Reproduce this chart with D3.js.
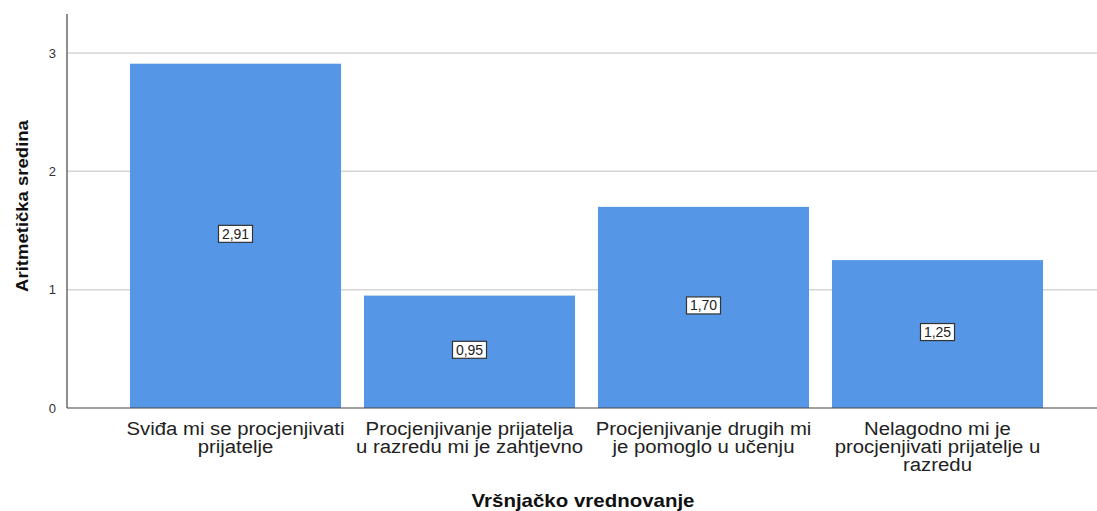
<!DOCTYPE html>
<html>
<head>
<meta charset="utf-8">
<script src="https://cdn.jsdelivr.net/npm/d3@7"></script>
<style>
  body { margin: 0; background: #fff; }
  svg { font-family: "Liberation Sans", Arial, sans-serif; }
</style>
</head>
<body>
<svg width="1097" height="511"></svg>
<script>
// Data
var categories = [
    "Sviđa mi se procjenjivati prijatelje",
    "Procjenjivanje prijatelja u razredu mi je zahtjevno",
    "Procjenjivanje drugih mi je pomoglo u učenju",
    "Nelagodno mi je procjenjivati prijatelje u razredu"
];
var categoryLines = [
    ["Sviđa mi se procjenjivati", "prijatelje"],
    ["Procjenjivanje prijatelja", "u razredu mi je zahtjevno"],
    ["Procjenjivanje drugih mi", "je pomoglo u učenju"],
    ["Nelagodno mi je", "procjenjivati prijatelje u", "razredu"]
];
var means = [2.91, 0.95, 1.70, 1.25];
var meanLabels = ["2,91", "0,95", "1,70", "1,25"];
var yTicks = [0, 1, 2, 3];

var svg = d3.select("svg");
var axisX = 67, baseY = 408, topY = 14;

var x = d3.scaleBand()
    .domain(categories)
    .range([118.5, 1054.5])
    .paddingInner(0.098)
    .paddingOuter(0.049);

var y = d3.scaleLinear()
    .domain([0, 3.33])
    .range([baseY, topY]);

// Grid lines
svg.append("g")
  .selectAll("line")
  .data(yTicks.filter(function(d) { return d > 0; }))
  .join("line")
    .attr("x1", axisX)
    .attr("x2", 1097)
    .attr("y1", function(d) { return y(d); })
    .attr("y2", function(d) { return y(d); })
    .attr("stroke", "#d6d6d6")
    .attr("stroke-width", 1.5);

// Bars
svg.append("g")
  .selectAll("rect")
  .data(means)
  .join("rect")
    .attr("x", function(d, i) { return x(categories[i]); })
    .attr("width", x.bandwidth())
    .attr("y", function(d) { return y(d); })
    .attr("height", function(d) { return baseY - y(d); })
    .attr("fill", "#5596e6");

// Value labels
var lab = svg.append("g")
  .selectAll("g")
  .data(means)
  .join("g")
    .attr("transform", function(d, i) {
        return "translate(" + (x(categories[i]) + x.bandwidth() / 2) + "," + (y(d / 2) - 2) + ")";
    });
lab.append("rect")
    .attr("x", -17)
    .attr("y", -8.5)
    .attr("width", 34)
    .attr("height", 17)
    .attr("fill", "#fff")
    .attr("stroke", "#333")
    .attr("stroke-width", 1.2);
lab.append("text")
    .attr("text-anchor", "middle")
    .attr("dy", "0.36em")
    .attr("font-size", 14)
    .attr("fill", "#222")
    .text(function(d, i) { return meanLabels[i]; });

// Y axis
var yAxis = d3.axisLeft(y).tickValues(yTicks).tickFormat(d3.format("d")).tickSize(0).tickPadding(11);
var gy = svg.append("g")
    .attr("transform", "translate(" + axisX + ",0)")
    .call(yAxis);
gy.select(".domain").remove();
gy.selectAll("text").attr("font-size", 13).attr("fill", "#333")
    .attr("font-family", "Liberation Sans, Arial, sans-serif");

svg.append("line")
    .attr("x1", axisX).attr("x2", axisX)
    .attr("y1", topY).attr("y2", baseY)
    .attr("stroke", "#444").attr("stroke-width", 1.2);
svg.append("line")
    .attr("x1", axisX).attr("x2", 1097)
    .attr("y1", baseY).attr("y2", baseY)
    .attr("stroke", "#444").attr("stroke-width", 1.2);

// Category labels (slightly stretched, like the original renderer)
var cat = svg.append("g")
  .selectAll("g")
  .data(categories)
  .join("g")
    .attr("transform", function(d) {
        return "translate(" + (x(d) + x.bandwidth() / 2) + ",0) scale(1.13,1)";
    })
  .append("text")
    .attr("text-anchor", "middle")
    .attr("font-size", 18)
    .attr("fill", "#222");
cat.selectAll("tspan")
  .data(function(d, i) { return categoryLines[i]; })
  .join("tspan")
    .attr("x", 0)
    .attr("y", function(d, j) { return 435 + j * 18; })
    .text(function(d) { return d; });

// Axis titles
svg.append("g")
    .attr("transform", "translate(583,507) scale(1.17,1)")
  .append("text")
    .attr("text-anchor", "middle")
    .attr("font-size", 17.5)
    .attr("font-weight", "bold")
    .attr("fill", "#111")
    .text("Vršnjačko vrednovanje");

svg.append("g")
    .attr("transform", "translate(28,206) rotate(-90) scale(1.09,1)")
  .append("text")
    .attr("text-anchor", "middle")
    .attr("font-size", 17)
    .attr("font-weight", "bold")
    .attr("fill", "#111")
    .text("Aritmetička sredina");
</script>
</body>
</html>
